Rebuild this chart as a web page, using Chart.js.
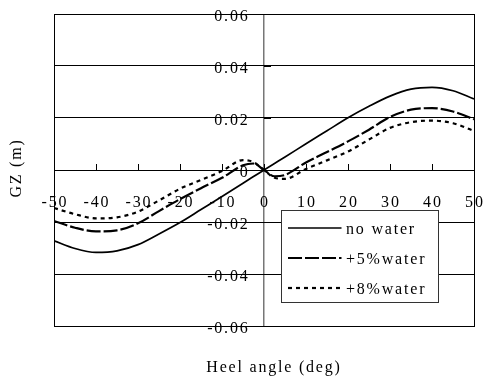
<!DOCTYPE html>
<html>
<head>
<meta charset="utf-8">
<script src="https://cdn.jsdelivr.net/npm/chart.js@4.4.1/dist/chart.umd.min.js"></script>
<style>
  html, body { margin: 0; padding: 0; background: #fff; }
  #wrap { width: 483px; height: 380px; }
</style>
</head>
<body>
<div id="wrap"><canvas id="gzChart"></canvas></div>
<script>
// heel angle (deg) and righting lever GZ (m) for each loading case
const heelAngles = [-50, -45, -40, -35, -30, -25, -20, -15, -10, -5, -2.5, 0, 2.5, 5, 10, 15, 20, 25, 30, 35, 40, 45, 50];
const gzNoWater = [-0.0272, -0.0302, -0.0317, -0.0311, -0.0287, -0.0246, -0.0202, -0.0152, -0.0102, -0.0051, -0.0025, 0,
  0.0025, 0.0050, 0.0101, 0.0151, 0.0201, 0.0245, 0.0284, 0.0311, 0.0318, 0.0305, 0.0273];
const gz5Water = [-0.0196, -0.0222, -0.0236, -0.0232, -0.0205, -0.0158, -0.0112, -0.0070, -0.0030, 0.0018, 0.0025, 0,
  -0.0024, -0.0019, 0.0029, 0.0069, 0.0110, 0.0155, 0.0204, 0.0232, 0.0238, 0.0225, 0.0195];
const gz8Water = [-0.0146, -0.0170, -0.0186, -0.0182, -0.0160, -0.0117, -0.0072, -0.0038, -0.0004, 0.0038, 0.0030, 0,
  -0.0030, -0.0034, 0.0004, 0.0037, 0.0071, 0.0117, 0.0162, 0.0184, 0.0190, 0.0180, 0.0150];
const seriesNames = ['no water', '+5%water', '+8%water'];

const xTicks = [-50, -40, -30, -20, -10, 0, 10, 20, 30, 40, 50];
const yTicks = [-0.06, -0.04, -0.02, 0, 0.02, 0.04, 0.06];
const yTickLabels = ['-0.06', '-0.04', '-0.02', '0', '0.02', '0.04', '0.06'];

const FONT = '16px "Liberation Serif", "DejaVu Serif", serif';

function points(values) {
  return heelAngles.map((a, i) => ({ x: a, y: values[i] }));
}

// axes through the origin, tick labels and axis titles
const crossAxes = {
  id: 'crossAxes',
  beforeDatasetsDraw(chart) {
    const ctx = chart.ctx;
    const xs = chart.scales.x, ys = chart.scales.y;
    const area = chart.chartArea;
    const x0 = xs.getPixelForValue(0), y0 = ys.getPixelForValue(0);
    ctx.save();
    ctx.strokeStyle = '#000';
    ctx.lineWidth = 1;
    ctx.beginPath();
    xTicks.forEach(v => {
      const px = Math.round(xs.getPixelForValue(v)) + 0.5;
      ctx.moveTo(px, y0 - 6);
      ctx.lineTo(px, y0);
    });
    yTicks.forEach(v => {
      const py = Math.round(ys.getPixelForValue(v)) + 0.5;
      ctx.moveTo(x0, py);
      ctx.lineTo(x0 + 7, py);
    });
    ctx.stroke();

    ctx.font = FONT;
    ctx.letterSpacing = '1.8px';
    ctx.fillStyle = '#000';
    ctx.textBaseline = 'alphabetic';
    ctx.textAlign = 'center';
    xTicks.forEach(v => {
      ctx.fillText(String(v), xs.getPixelForValue(v) + 0.9, y0 + 36.5);
    });
    ctx.textAlign = 'right';
    yTicks.forEach((v, i) => {
      ctx.fillText(yTickLabels[i], x0 - 14.5, ys.getPixelForValue(v) + 6.5);
    });

    ctx.textAlign = 'center';
    ctx.fillText('Heel angle (deg)', (area.left + area.right) / 2 + 10, area.bottom + 45.5);
    ctx.translate(21, (area.top + area.bottom) / 2 - 2);
    ctx.rotate(-Math.PI / 2);
    ctx.fillText('GZ (m)', 0, 0);
    ctx.restore();
  },
  afterDatasetsDraw(chart) {
    const ctx = chart.ctx;
    const area = chart.chartArea;
    const left = area.left + 227.5, top = area.top + 196.5;
    ctx.save();
    ctx.fillStyle = '#fff';
    ctx.fillRect(left, top, 157, 92);
    ctx.strokeStyle = '#333';
    ctx.lineWidth = 1;
    ctx.strokeRect(left, top, 157, 92);
    ctx.font = FONT;
    ctx.letterSpacing = '1.8px';
    ctx.textAlign = 'left';
    ctx.textBaseline = 'alphabetic';
    chart.data.datasets.forEach((ds, i) => {
      const ly = top + 17.5 + i * 30;
      ctx.strokeStyle = ds.borderColor;
      ctx.lineWidth = ds.borderWidth;
      ctx.setLineDash(ds.borderDash || []);
      ctx.beginPath();
      ctx.moveTo(left + 6.5, ly);
      ctx.lineTo(left + 60, ly);
      ctx.stroke();
      ctx.setLineDash([]);
      ctx.fillStyle = '#000';
      ctx.fillText(ds.label, left + 64.5, ly + 5.5);
    });
    ctx.restore();
  }
};

new Chart(document.getElementById('gzChart'), {
  type: 'line',
  data: {
    datasets: [
      {
        label: seriesNames[0],
        data: points(gzNoWater),
        borderColor: '#000',
        borderWidth: 1.7,
      },
      {
        label: seriesNames[1],
        data: points(gz5Water),
        borderColor: '#000',
        borderWidth: 2.2,
        borderDash: [14, 3],
      },
      {
        label: seriesNames[2],
        data: points(gz8Water),
        borderColor: '#000',
        borderWidth: 2.2,
        borderDash: [4, 4],
      }
    ]
  },
  options: {
    responsive: true,
    maintainAspectRatio: false,
    animation: false,
    layout: { padding: { left: 54, right: 9, top: 14, bottom: 54 } },
    elements: {
      point: { radius: 0 },
      line: { cubicInterpolationMode: 'monotone', fill: false }
    },
    plugins: {
      legend: { display: false },
      tooltip: { enabled: false }
    },
    scales: {
      x: {
        type: 'linear',
        min: -50,
        max: 50,
        ticks: { display: false, stepSize: 10 },
        grid: {
          drawTicks: false,
          color: c => c.tick.value === 0 ? '#777' : (Math.abs(c.tick.value) === 50 ? '#000' : 'rgba(0,0,0,0)'),
          lineWidth: c => c.tick.value === 0 ? 1.5 : 1,
        },
        border: { display: true, color: '#000', width: 1 }
      },
      y: {
        min: -0.06,
        max: 0.06,
        ticks: { display: false, stepSize: 0.02 },
        grid: { drawTicks: false, color: '#000', lineWidth: 1 },
        border: { display: true, color: '#000', width: 1 }
      }
    }
  },
  plugins: [crossAxes]
});
</script>
</body>
</html>
